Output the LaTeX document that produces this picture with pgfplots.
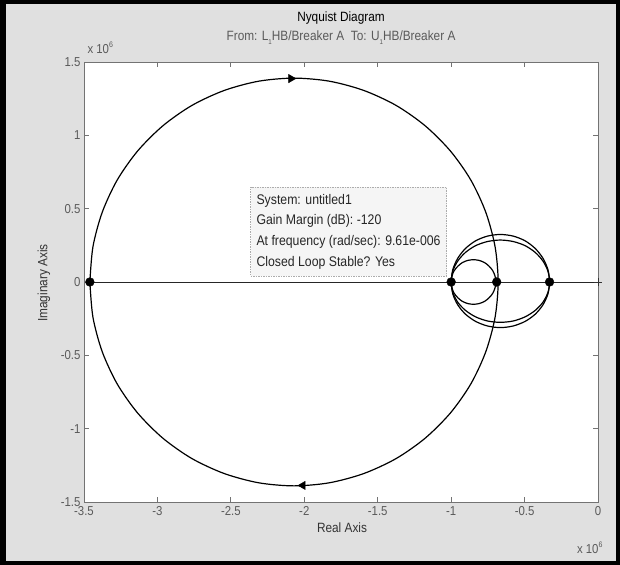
\documentclass[border=0pt]{standalone}
\usepackage{pgfplots}
\pgfplotsset{compat=1.18}
\usepackage{fontspec}
\setmainfont{Liberation Sans}[FakeStretch=0.88]
\definecolor{bg}{RGB}{224,224,224}
\definecolor{tipbg}{RGB}{245,245,245}
\definecolor{axgray}{RGB}{115,115,115}
\definecolor{lblgray}{RGB}{90,90,90}
\newcommand{\fs}[1]{\fontsize{#1}{#1}\selectfont}
\begin{document}
\begin{tikzpicture}[x=1bp,y=1bp]
\useasboundingbox (0,0) rectangle (620,565);
\fill[bg] (0,0) rectangle (620,565);
\begin{axis}[
  scale only axis, width=514bp, height=440bp,
  at={(84bp,63bp)}, anchor=south west,
  xmin=-3.5, xmax=0, ymin=-1.5, ymax=1.5,
  clip=false,
  axis background/.style={fill=white},
  axis line style={axgray, line width=0.8bp},
  tick style={axgray, line width=0.8bp},
  major tick length=5bp, tick align=inside,
  xtick={-3.5,-3,-2.5,-2,-1.5,-1,-0.5,0},
  xticklabels={-3.5,-3,-2.5,-2,-1.5,-1,-0.5,0},
  ytick={-1.5,-1,-0.5,0,0.5,1,1.5},
  yticklabels={-1.5,-1,-0.5,0,0.5,1,1.5},
  ticklabel style={font=\fs{13}, text=lblgray},
  xticklabel style={yshift=-1bp},
]
% real axis segment
\addplot[black!85, line width=0.8bp] coordinates {(-3.46,0) (0,0)};
% big circle
\addplot[black, line width=1.2bp, smooth] coordinates {
(-3.46,0) (-3.439,0.241) (-3.376,0.475) (-3.274,0.695) (-3.135,0.893) (-2.963,1.065) (-2.765,1.204) (-2.545,1.306) (-2.311,1.369) (-2.07,1.39) (-1.829,1.369) (-1.595,1.306) (-1.375,1.204) (-1.177,1.065) (-1.005,0.893) (-0.866,0.695) (-0.764,0.475) (-0.701,0.241) (-0.68,0)
(-0.701,-0.241) (-0.764,-0.475) (-0.866,-0.695) (-1.005,-0.893) (-1.177,-1.065) (-1.375,-1.204) (-1.595,-1.306) (-1.829,-1.369) (-2.07,-1.39) (-2.311,-1.369) (-2.545,-1.306) (-2.765,-1.204) (-2.963,-1.065) (-3.135,-0.893) (-3.274,-0.695) (-3.376,-0.475) (-3.439,-0.241) (-3.46,0)};
% loop A
\addplot[black, line width=1.2bp, smooth] coordinates {
(-1.0,0) (-0.989,0.084) (-0.955,0.162) (-0.902,0.229) (-0.833,0.281) (-0.752,0.313) (-0.665,0.324) (-0.578,0.313) (-0.497,0.281) (-0.428,0.229) (-0.375,0.162) (-0.341,0.084) (-0.33,0)
(-0.341,-0.071) (-0.375,-0.138) (-0.428,-0.194) (-0.497,-0.238) (-0.578,-0.266) (-0.665,-0.275) (-0.752,-0.266) (-0.833,-0.238) (-0.902,-0.194) (-0.955,-0.138) (-0.989,-0.071) (-1.0,0)};
% loop B
\addplot[black, line width=1.2bp, smooth] coordinates {
(-1.0,0) (-0.989,0.074) (-0.955,0.143) (-0.902,0.202) (-0.833,0.248) (-0.752,0.276) (-0.665,0.286) (-0.578,0.276) (-0.497,0.248) (-0.428,0.202) (-0.375,0.143) (-0.341,0.074) (-0.33,0)
(-0.341,-0.081) (-0.375,-0.156) (-0.428,-0.220) (-0.497,-0.269) (-0.578,-0.300) (-0.665,-0.311) (-0.752,-0.300) (-0.833,-0.269) (-0.902,-0.220) (-0.955,-0.156) (-0.989,-0.081) (-1.0,0)};
% small circle
\addplot[black, line width=1.2bp, smooth] coordinates {
(-1.0,0) (-0.995,0.039) (-0.980,0.076) (-0.955,0.107) (-0.924,0.132) (-0.887,0.147) (-0.848,0.152) (-0.809,0.147) (-0.772,0.132) (-0.741,0.107) (-0.716,0.076) (-0.701,0.039) (-0.696,0)
(-0.701,-0.039) (-0.716,-0.076) (-0.741,-0.107) (-0.772,-0.132) (-0.809,-0.147) (-0.848,-0.152) (-0.887,-0.147) (-0.924,-0.132) (-0.955,-0.107) (-0.980,-0.076) (-0.995,-0.039) (-1.0,0)};
% direction arrows
\addplot[only marks, mark=triangle*, mark size=4.8bp, mark options={rotate=-90, fill=black, draw=black}] coordinates {(-2.09,1.387)};
\addplot[only marks, mark=triangle*, mark size=4.8bp, mark options={rotate=90, fill=black, draw=black}] coordinates {(-2.01,-1.387)};
% critical point
\addplot[only marks, mark=+, mark size=4bp, mark options={black!80, line width=0.9bp}] coordinates {(0,0)};
% gain margin points
\addplot[only marks, mark=*, mark size=4.4bp, mark options={fill=black, draw=black}] coordinates {(-3.46,0) (-1.0,0) (-0.69,0) (-0.33,0)};
% data tip
\node[draw=gray!65, dash pattern=on 1.5bp off 1bp, fill=tipbg, anchor=south east, align=left, inner xsep=6bp, inner ysep=7bp, font=\fontsize{14}{20.7}\selectfont, text=black!85]
  at (axis cs:-1.03,0.04) {System: untitled1\\Gain Margin (dB): -120\\At frequency (rad/sec): 9.61e-006\\Closed Loop Stable? Yes};
\end{axis}
\node[font=\fs{13.5}, text=black] at (341,547) {Nyquist Diagram};
\node[font=\fs{13.5}, text=lblgray] at (341,527) {From: L\raisebox{-0.6ex}{\fs{7}1}HB/Breaker A\hspace{0.5em}To: U\raisebox{-0.6ex}{\fs{7}1}HB/Breaker A};
\node[font=\fs{13}, text=lblgray, anchor=west] at (84,517) {x 10\raisebox{0.9ex}{\fs{8}6}};
\node[font=\fs{13}, text=lblgray, anchor=east] at (606,17) {x 10\raisebox{0.9ex}{\fs{8}6}};
\node[font=\fs{13.5}, text=black!80] at (342,37) {Real Axis};
\node[font=\fs{13.5}, text=black!80, rotate=90] at (44,282) {Imaginary Axis};
\fill[black] (0,0) rectangle (6,565);
\draw[black, line width=4bp] (2,2) rectangle (618,563);
\end{tikzpicture}
\end{document}
